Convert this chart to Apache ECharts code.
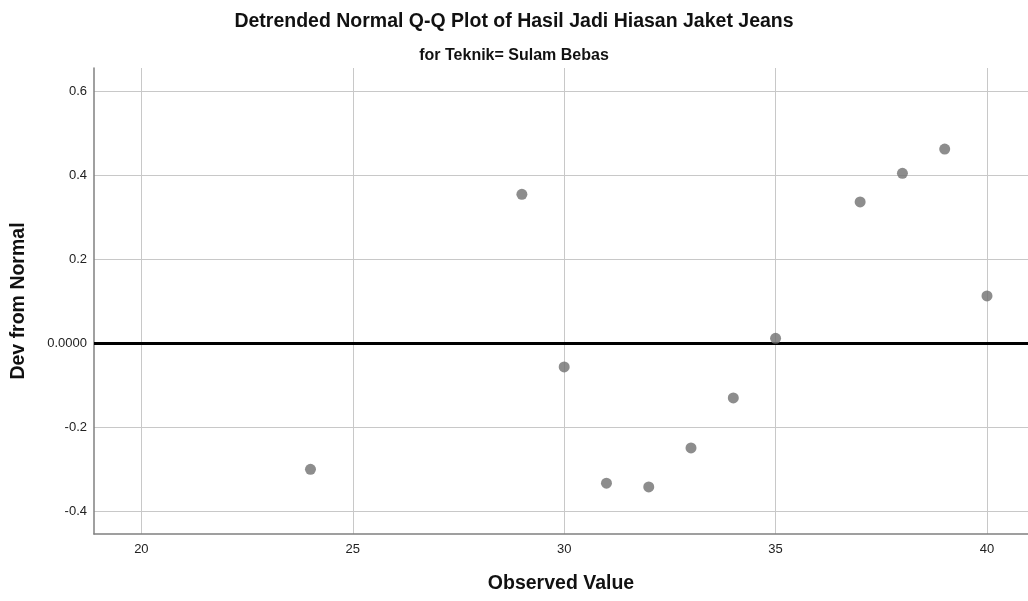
<!DOCTYPE html>
<html><head><meta charset="utf-8">
<script src="https://cdn.jsdelivr.net/npm/echarts@6/dist/echarts.min.js"></script>
<style>html,body{margin:0;padding:0;background:#fff}#c{width:1028px;height:601px}</style>
</head><body><div id="c"></div>
<script>
const observed = [24, 29, 30, 31, 32, 33, 34, 35, 37, 38, 39, 40];
const devFromNormal = [-0.300, 0.355, -0.056, -0.333, -0.342, -0.249, -0.130, 0.012, 0.337, 0.405, 0.463, 0.113];
const xTicks = [20, 25, 30, 35, 40];
const yTicks = [-0.4, -0.2, 0, 0.2, 0.4, 0.6];

const chart = echarts.init(document.getElementById('c'), null, {renderer: 'canvas'});
const font = 'Liberation Sans, Arial, sans-serif';
chart.setOption({
  animation: false,
  backgroundColor: '#fff',
  title: [
    {text: 'Detrended Normal Q-Q Plot of Hasil Jadi Hiasan Jaket Jeans', left: 'center', top: 7,
     textStyle: {fontFamily: font, fontSize: 19.5, fontWeight: 'bold', color: '#111'}},
    {text: 'for Teknik= Sulam Bebas', left: 'center', top: 43,
     textStyle: {fontFamily: font, fontSize: 16, fontWeight: 'bold', color: '#111'}}
  ],
  grid: {left: 94, right: 0, top: 68, bottom: 67, containLabel: false},
  xAxis: {
    type: 'value', min: 18.88, max: 40.97,
    name: 'Observed Value', nameLocation: 'middle', nameGap: 40,
    nameTextStyle: {fontFamily: font, fontSize: 19.5, fontWeight: 'bold', color: '#111'},
    axisLine: {show: true, onZero: false, lineStyle: {color: '#808080', width: 1.5}},
    axisTick: {show: false, customValues: xTicks},
    axisLabel: {customValues: xTicks, margin: 9, fontFamily: font, fontSize: 13, color: '#222'},
    splitLine: {show: true, lineStyle: {color: '#c8c8c8', width: 1}}
  },
  yAxis: {
    type: 'value', min: -0.454, max: 0.656,
    name: 'Dev from Normal', nameLocation: 'middle', nameGap: 65, nameRotate: 90,
    nameTextStyle: {fontFamily: font, fontSize: 19.5, fontWeight: 'bold', color: '#111'},
    axisLine: {show: true, onZero: false, lineStyle: {color: '#808080', width: 1.5}},
    axisTick: {show: false, customValues: yTicks},
    axisLabel: {customValues: yTicks, margin: 7, fontFamily: font, fontSize: 13, color: '#222',
      formatter: v => (Math.abs(v) < 1e-9 ? '0.0000' : v.toFixed(1))},
    splitLine: {show: true, lineStyle: {color: '#c8c8c8', width: 1}}
  },
  series: [{
    type: 'scatter',
    data: observed.map((x, i) => [x, devFromNormal[i]]),
    symbol: 'circle', symbolSize: 11,
    itemStyle: {color: '#707070'},
    z: 3,
    markLine: {
      silent: true, symbol: 'none', label: {show: false},
      lineStyle: {color: '#000', width: 3, type: 'solid'},
      data: [{yAxis: 0}],
      z: 2
    }
  }]
});
</script></body></html>
